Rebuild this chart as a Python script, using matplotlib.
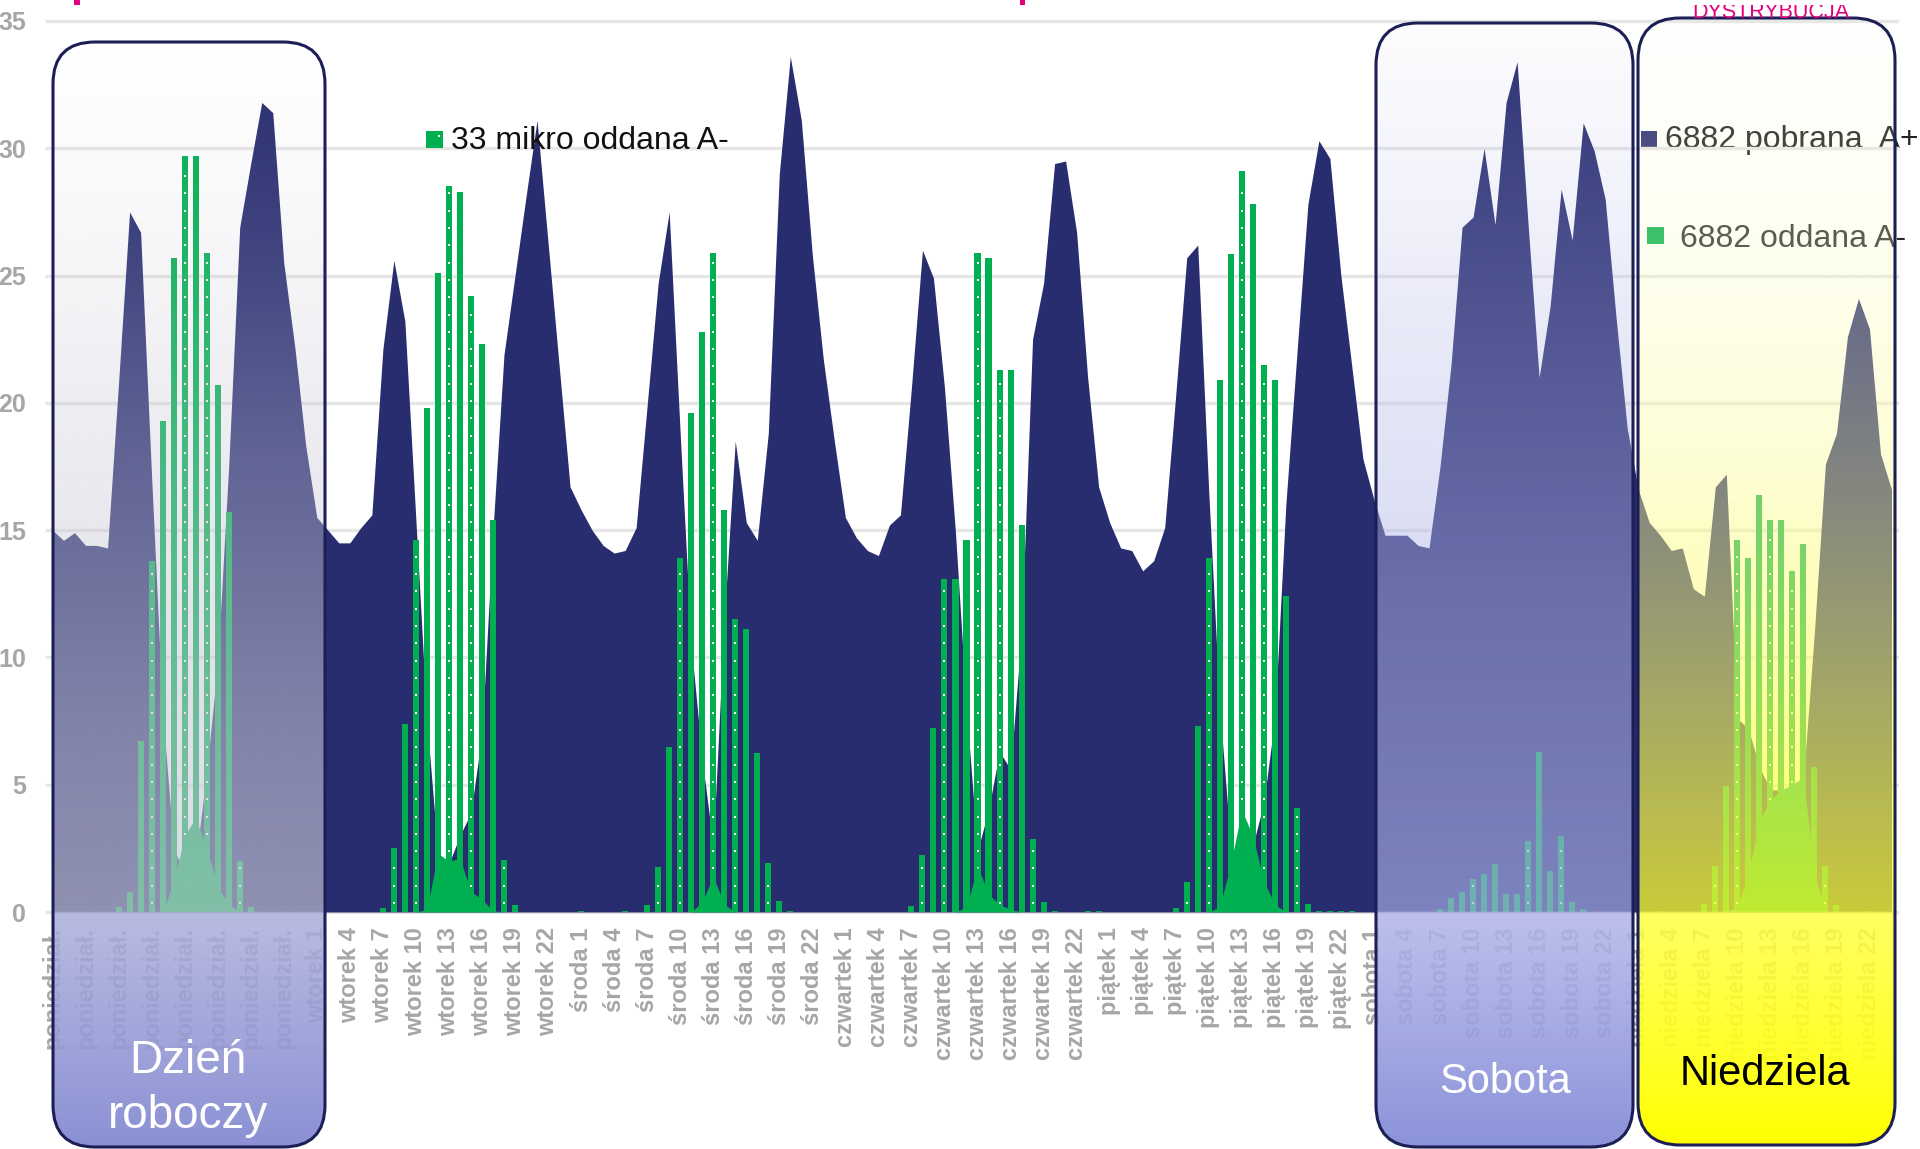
import numpy as np
import matplotlib
matplotlib.use("Agg")
import matplotlib.pyplot as plt
from matplotlib.patches import FancyBboxPatch, Rectangle
from matplotlib import font_manager

plt.rcParams['font.family'] = ['Liberation Sans', 'DejaVu Sans']

W, H = 1920, 1149

days = ['poniedział.', 'wtorek', 'środa', 'czwartek', 'piątek', 'sobota', 'niedziela']

# 6882 pobrana A+  (godziny 1..24, pon..niedz)
pobrana = [
    15.0, 14.6, 14.9, 14.4, 14.4, 14.3, 20.8, 27.5, 26.7, 17.1, 7.9, 2.5,
    1.5, 2.0, 5.5, 9.8, 17.5, 26.9, 29.4, 31.8, 31.4, 25.5, 22.2, 18.3,
    15.5, 15.0, 14.5, 14.5, 15.1, 15.6, 22.1, 25.6, 23.2, 15.4, 7.5, 2.3,
    1.9, 3.0, 3.9, 7.0, 15.0, 21.9, 25.0, 28.1, 31.1, 26.3, 21.5, 16.7,
    15.8, 15.0, 14.4, 14.1, 14.2, 15.1, 19.9, 24.7, 27.5, 18.8, 10.5, 6.0,
    2.6, 11.5, 18.5, 15.3, 14.6, 18.8, 29.0, 33.6, 31.1, 25.8, 21.7, 18.5,
    15.5, 14.7, 14.2, 14.0, 15.2, 15.6, 20.6, 26.0, 24.9, 20.6, 14.9, 8.0,
    2.4, 4.0, 6.3, 5.6, 11.0, 22.5, 24.7, 29.4, 29.5, 26.7, 21.0, 16.7,
    15.3, 14.3, 14.2, 13.4, 13.8, 15.1, 20.3, 25.7, 26.2, 16.5, 8.0, 2.6,
    2.0, 2.6, 4.3, 7.6, 16.0, 21.9, 27.8, 30.3, 29.6, 25.0, 21.4, 17.8,
    16.2, 14.8, 14.8, 14.8, 14.4, 14.3, 17.5, 21.5, 26.9, 27.3, 30.0, 27.0,
    31.8, 33.4, 27.0, 21.0, 23.8, 28.4, 26.4, 31.0, 29.9, 28.0, 23.3, 19.0,
    16.6, 15.3, 14.8, 14.2, 14.3, 12.7, 12.4, 16.7, 17.2, 7.6, 7.2, 5.7,
    4.8, 4.8, 4.9, 5.2, 11.0, 17.6, 18.8, 22.6, 24.1, 22.9, 18.0, 16.6,
]

# 33 mikro oddana A-
mikro = [
    0, 0, 0, 0, 0, 0, 0.2, 0.8, 6.7, 13.8, 19.3, 25.7,
    29.7, 29.7, 25.9, 20.7, 15.7, 2.0, 0.2, 0, 0, 0, 0, 0,
    0, 0, 0, 0, 0, 0, 0.15, 2.5, 7.4, 14.6, 19.8, 25.1,
    28.5, 28.3, 24.2, 22.3, 15.4, 2.05, 0.26, 0, 0, 0, 0, 0,
    0.05, 0, 0, 0, 0.05, 0, 0.26, 1.76, 6.5, 13.9, 19.6, 22.8,
    25.9, 15.8, 11.5, 11.1, 6.25, 1.94, 0.44, 0.05, 0, 0, 0, 0,
    0, 0, 0, 0, 0, 0, 0.22, 2.24, 7.24, 13.1, 13.1, 14.6,
    25.9, 25.7, 21.3, 21.3, 15.2, 2.86, 0.4, 0.05, 0, 0, 0.05, 0.05,
    0, 0, 0, 0, 0, 0, 0.15, 1.17, 7.3, 13.9, 20.9, 25.85,
    29.1, 27.8, 21.5, 20.9, 12.4, 4.07, 0.33, 0.05, 0.05, 0.05, 0.05, 0,
    0, 0, 0, 0, 0, 0, 0.1, 0.55, 0.8, 1.3, 1.5, 1.9,
    0.7, 0.7, 2.8, 6.3, 1.6, 3.0, 0.4, 0.1, 0, 0, 0, 0,
    0, 0, 0.05, 0, 0, 0, 0.3, 1.8, 4.95, 14.6, 13.9, 16.4,
    15.4, 15.4, 13.4, 14.45, 5.7, 1.8, 0.27, 0, 0, 0.05, 0, 0,
]

# 6882 oddana A-
oddana = [
    0, 0, 0, 0, 0, 0, 0, 0, 0, 0, 0, 1.2,
    3.0, 3.7, 2.5, 1.0, 0.3, 0, 0, 0, 0, 0, 0, 0,
    0, 0, 0, 0, 0, 0, 0, 0, 0, 0, 0.1, 2.3,
    2.0, 2.1, 0.8, 0.5, 0.05, 0, 0, 0, 0, 0, 0, 0,
    0, 0, 0, 0, 0, 0, 0, 0, 0, 0, 0, 0.4,
    1.4, 0.3, 0, 0, 0, 0, 0, 0, 0, 0, 0, 0,
    0, 0, 0, 0, 0, 0, 0, 0, 0, 0, 0, 0.2,
    1.8, 0.7, 0.3, 0.1, 0, 0, 0, 0, 0, 0, 0, 0,
    0, 0, 0, 0, 0, 0, 0, 0, 0, 0, 0.2, 1.9,
    4.0, 3.0, 1.2, 0.3, 0, 0, 0, 0, 0, 0, 0, 0,
    0, 0, 0, 0, 0, 0, 0, 0, 0, 0, 0, 0,
    0, 0, 0, 0, 0, 0, 0, 0, 0, 0, 0, 0,
    0, 0, 0, 0, 0, 0, 0, 0, 0, 0.2, 1.5, 3.6,
    4.4, 4.8, 5.0, 5.3, 1.5, 0, 0, 0, 0, 0, 0, 0,
]

NAVY = '#282D70'
GREEN = '#00B050'
GRAY = '#A6A6A6'
EDGE = '#1C1F55'
PINK = '#E4007C'

x = np.arange(len(pobrana))
tick_idx = x[::3]
tick_labels = [f"{days[i // 24]} {i % 24 + 1}" if i >= 24 else days[0] for i in tick_idx]

fig = plt.figure(figsize=(W / 100, H / 100), dpi=100)
ax = fig.add_axes([47 / W, 1 - 912 / H, (1897 - 47) / W, (912 - 21) / H])

ax.fill_between(x, 0, pobrana, color=NAVY, lw=0, zorder=1)
ax.bar(x, mikro, width=0.55, color=GREEN, lw=0, zorder=2)
ax.fill_between(x, 0, oddana, color=GREEN, lw=0, zorder=3)

# white dot pattern on the 33 mikro bars
dot_hours = {2, 4, 7, 9, 12, 14, 17, 19, 22}
for j in x:
    if mikro[j] > 0.9 and j % 24 in dot_hours:
        ys = np.arange(0.35, mikro[j] - 0.25, 0.68)
        ax.scatter(np.full(len(ys), j), ys, marker='s', s=2.5, c='white',
                   lw=0, zorder=2.5)

for v in range(0, 36, 5):
    ax.axhline(v, color='#E6E6E6', lw=2.4, zorder=0.5, clip_on=False)

ax.set_xlim(-0.5, len(x) - 0.5)
ax.set_ylim(0, 35)
ax.set_yticks(range(0, 36, 5))
ax.set_xticks(tick_idx)
ax.set_xticklabels(tick_labels, rotation=90)
ax.tick_params(axis='y', length=0, pad=15, labelsize=18, labelcolor=GRAY)
ax.tick_params(axis='x', length=0, pad=11, labelsize=17, labelcolor=GRAY)
for lab in ax.get_xticklabels() + ax.get_yticklabels():
    lab.set_fontweight('bold')
for s in ax.spines.values():
    s.set_visible(False)
ax.patch.set_alpha(0)


def fx(px):
    return px / W


def fy(py):
    return 1 - py / H


def legend_square(x0, y0, size, color, z):
    ax.add_patch(Rectangle((fx(x0), fy(y0 + size)), size / W, size / H,
                           transform=fig.transFigure, color=color, lw=0,
                           clip_on=False, zorder=z))


legend_square(426, 131, 17, GREEN, 6)
ax.add_patch(Rectangle((fx(438), fy(137)), 2 / W, 2 / H, transform=fig.transFigure,
                       color='white', lw=0, clip_on=False, zorder=6.1))
ax.text(fx(451), fy(149), '33 mikro oddana A-', transform=fig.transFigure,
        fontsize=23, color='#111111', va='baseline', zorder=6)

legend_square(1641, 131, 16, NAVY, 0.4)
ax.text(fx(1665), fy(148), '6882 pobrana  A+', transform=fig.transFigure,
        fontsize=23, color='#222222', va='baseline', zorder=0.4, clip_on=False)
legend_square(1647, 227, 17, GREEN, 0.4)
ax.text(fx(1680), fy(247), '6882 oddana A-', transform=fig.transFigure,
        fontsize=23, color='#2A2A2A', va='baseline', zorder=0.4, clip_on=False)

# rounded day boxes drawn over the chart
ov = fig.add_axes([0, 0, 1, 1], zorder=3)
ov.axis('off')
ov.patch.set_alpha(0)


def day_box(x0, y0, x1, y1, stops):
    patch = FancyBboxPatch((x0, y0), x1 - x0, y1 - y0,
                           boxstyle='round,pad=0,rounding_size=42',
                           fc='none', ec=EDGE, lw=2.2, zorder=3)
    ov.add_patch(patch)
    ys = np.arange(y0, y1 + 1)
    pos = [s[0] for s in stops]
    grad = np.zeros((len(ys), 1, 4))
    for k in range(4):
        vals = [s[1 + k] for s in stops]
        grad[:, 0, k] = np.interp(ys, pos, vals)
    grad[:, :, :3] /= 255.0
    im = ov.imshow(grad, extent=(x0, x1, y1, y0), aspect='auto',
                   interpolation='bilinear', zorder=2)
    im.set_clip_path(patch)


day_box(53, 42, 325, 1147, [
    (42, 200, 200, 215, 0.0), (234, 200, 200, 215, 0.14),
    (457, 200, 200, 215, 0.36), (725, 200, 200, 215, 0.56),
    (911, 200, 200, 215, 0.65), (913, 172, 175, 219, 0.85),
    (1147, 132, 138, 210, 0.95)])
day_box(1376, 23, 1633, 1147, [
    (23, 190, 192, 232, 0.04), (300, 182, 186, 232, 0.28),
    (600, 176, 181, 232, 0.50), (911, 170, 176, 230, 0.66),
    (913, 178, 182, 232, 0.86), (1147, 134, 142, 216, 0.96)])
day_box(1638, 18, 1895, 1145, [
    (18, 252, 252, 225, 0.05), (300, 252, 252, 190, 0.30),
    (600, 253, 253, 120, 0.52), (911, 255, 255, 40, 0.76),
    (913, 255, 255, 70, 0.85), (1145, 255, 255, 0, 1.0)])

ov.text(188, 1073, 'Dzień', ha='center', va='baseline', fontsize=33,
        color='white', zorder=4)
ov.text(188, 1128, 'roboczy', ha='center', va='baseline', fontsize=33,
        color='white', zorder=4)
ov.text(1505, 1093, 'Sobota', ha='center', va='baseline', fontsize=30,
        color='white', zorder=4)
ov.text(1765, 1085, 'Niedziela', ha='center', va='baseline', fontsize=30,
        color='black', zorder=4)

# header remnants along the top edge
try:
    font_manager.findfont('Liberation Sans Narrow', fallback_to_default=False)
    head_font, head_size = ['Liberation Sans Narrow', 'DejaVu Sans'], 19
except ValueError:
    head_font, head_size = ['Liberation Sans', 'DejaVu Sans'], 15.5
ov.text(1771, 18, 'DYSTRYBUCJA', ha='center', va='baseline', fontsize=head_size,
        family=head_font, color=PINK, zorder=4)
ov.add_patch(Rectangle((1680, -2), 190, 7, color='white', lw=0, zorder=4.5))
ov.add_patch(Rectangle((74, 0), 5.5, 5, color=PINK, lw=0, zorder=4))
ov.add_patch(Rectangle((1020, 0), 5, 5, color=PINK, lw=0, zorder=4))

ov.set_xlim(0, W)
ov.set_ylim(H, 0)

fig.savefig('out.png', dpi=100)
